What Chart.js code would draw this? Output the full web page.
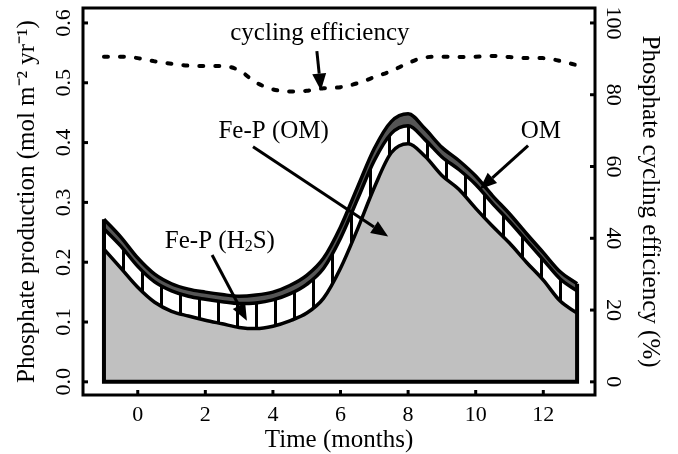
<!DOCTYPE html>
<html><head><meta charset="utf-8">
<script src="https://cdn.jsdelivr.net/npm/chart.js@4/dist/chart.umd.min.js"></script>
<style>html,body{margin:0;padding:0;background:#fff}#wrap{width:678px;height:454px}</style>
</head><body><div id="wrap"><canvas id="c" width="678" height="454"></canvas></div>
<script>
// ---- data ----
const months = [-1,-0.5,0,0.5,1,1.5,2,2.5,3,3.5,4,4.5,5,5.5,6,6.5,7,7.5,8,8.5,9,9.5,10,10.5,11,11.5,12,12.5,13];
const fePOM = [0.222,0.190,0.158,0.133,0.118,0.110,0.103,0.097,0.091,0.089,0.093,0.102,0.115,0.140,0.190,0.255,0.325,0.383,0.398,0.377,0.345,0.322,0.290,0.260,0.232,0.200,0.170,0.135,0.115];
const fePH2S = [0.034,0.037,0.035,0.034,0.034,0.033,0.035,0.037,0.040,0.043,0.044,0.045,0.048,0.050,0.050,0.050,0.045,0.032,0.030,0.028,0.031,0.033,0.040,0.038,0.036,0.036,0.034,0.037,0.037];
const om = [0.016,0.015,0.014,0.013,0.012,0.012,0.012,0.012,0.012,0.013,0.013,0.014,0.015,0.017,0.019,0.020,0.020,0.020,0.020,0.018,0.016,0.015,0.014,0.013,0.013,0.012,0.012,0.012,0.012];
const cyclingEfficiency = [90.6,90.6,90.2,89.3,88.6,88.1,88.0,88.0,86.8,83.4,81.5,80.9,81.1,81.8,82.1,83.2,84.9,86.6,88.8,90.4,90.6,90.5,90.6,90.8,90.5,90.2,90.2,89.4,88.2];
const xTicks = [0,2,4,6,8,10,12];
const yTicks = [0,0.1,0.2,0.3,0.4,0.5,0.6];
const y2Ticks = [0,20,40,60,80,100];

// annotation labels (data coordinates: months, production)
const annotations = [
  {parts:[['cycling efficiency']], at:[5.39,0.583], from:[5.30,0.553], to:[5.42,0.487]},
  {parts:[['Fe-P (OM)']], at:[4.02,0.418], from:[3.41,0.393], to:[7.41,0.243]},
  {parts:[['OM']], at:[11.93,0.418], from:[11.55,0.395], to:[10.12,0.322]},
  {parts:[['Fe-P (H'],['2',true],['S)']], at:[2.43,0.235], from:[2.20,0.212], to:[3.23,0.102]}
];

// ---- derived tables ----
const lowerTop = months.map((m,i)=>({x:m,y:fePOM[i]}));
const midTop = months.map((m,i)=>({x:m,y:fePOM[i]+fePH2S[i]}));
const outerTop = months.map((m,i)=>({x:m,y:fePOM[i]+fePH2S[i]+om[i]}));
const effPts = months.map((m,i)=>({x:m,y:cyclingEfficiency[i]}));
const last = months.length-1;
const outline = [
  {x:months[0],y:outerTop[0].y},{x:months[0],y:0},
  {x:months[last],y:0},{x:months[last],y:outerTop[last].y}
];

// hatch pattern
const pc = document.createElement('canvas');
pc.width = 19; pc.height = 19;
const pctx = pc.getContext('2d');
pctx.fillStyle = '#fff'; pctx.fillRect(0,0,19,19);
pctx.fillStyle = '#000'; pctx.fillRect(8,0,3,19);
const hatch = pctx.createPattern(pc,'repeat');

const FONT = 'Liberation Serif, Times New Roman, serif';

const deco = {
  id:'deco',
  afterDatasetsDraw(chart){
    const ctx = chart.ctx, a = chart.chartArea;
    const sx = chart.scales.x, sy = chart.scales.y, s2 = chart.scales.y2;
    ctx.save();
    ctx.strokeStyle = '#000'; ctx.fillStyle = '#000';
    ctx.lineWidth = 3;
    xTicks.forEach(v=>{const p=sx.getPixelForValue(v);ctx.beginPath();ctx.moveTo(p,a.bottom);ctx.lineTo(p,a.bottom-5);ctx.stroke();});
    yTicks.forEach(v=>{const p=sy.getPixelForValue(v);ctx.beginPath();ctx.moveTo(a.left,p);ctx.lineTo(a.left+5,p);ctx.stroke();});
    y2Ticks.forEach(v=>{const p=s2.getPixelForValue(v);ctx.beginPath();ctx.moveTo(a.right,p);ctx.lineTo(a.right-5,p);ctx.stroke();});
    ctx.lineWidth = 3;
    ctx.strokeRect(a.left,a.top,a.right-a.left,a.bottom-a.top);
    annotations.forEach(an=>{
      const size = 25;
      let total = 0;
      const segs = an.parts.map(p=>{
        const f = p[1] ? Math.round(size*0.65) : size;
        ctx.font = f+'px '+FONT;
        const w = ctx.measureText(p[0]).width;
        total += w;
        return {t:p[0],f,w,sub:!!p[1]};
      });
      let x = sx.getPixelForValue(an.at[0]) - total/2;
      const y = sy.getPixelForValue(an.at[1]);
      ctx.textBaseline = 'middle'; ctx.textAlign = 'left';
      segs.forEach(s=>{
        ctx.font = s.f+'px '+FONT;
        ctx.fillText(s.t,x,s.sub? y+6 : y);
        x += s.w;
      });
      const x1 = sx.getPixelForValue(an.from[0]), y1 = sy.getPixelForValue(an.from[1]);
      const x2 = sx.getPixelForValue(an.to[0]), y2 = sy.getPixelForValue(an.to[1]);
      const ang = Math.atan2(y2-y1,x2-x1), hl = 17, hw = 7;
      const bx = x2 - hl*Math.cos(ang), by = y2 - hl*Math.sin(ang);
      ctx.lineWidth = 3;
      ctx.beginPath(); ctx.moveTo(x1,y1); ctx.lineTo(bx,by); ctx.stroke();
      ctx.beginPath();
      ctx.moveTo(x2,y2);
      ctx.lineTo(bx + hw*Math.sin(ang), by - hw*Math.cos(ang));
      ctx.lineTo(bx - hw*Math.sin(ang), by + hw*Math.cos(ang));
      ctx.closePath(); ctx.fill();
    });
    ctx.restore();
  }
};

const tickFont = {family:FONT, size:22};
const titleFont = {family:FONT, size:25};
const curve = {pointRadius:0, borderColor:'#000', borderWidth:3.5, tension:0.4, cubicInterpolationMode:'monotone'};
const noPad = s=>{s.paddingTop=0;s.paddingBottom=0;s.paddingLeft=0;s.paddingRight=0;};

new Chart(document.getElementById('c'), {
  type:'line',
  data:{datasets:[
    {label:'cycling efficiency', data:effPts, yAxisID:'y2', borderColor:'#000', borderWidth:4, borderDash:[4,12], borderCapStyle:'round', pointRadius:0, tension:0.4, cubicInterpolationMode:'monotone', fill:false},
    {label:'outline', data:outline, yAxisID:'y', borderColor:'#000', borderWidth:4, pointRadius:0, tension:0, fill:false, borderJoinStyle:'miter'},
    Object.assign({label:'OM', data:outerTop, yAxisID:'y', backgroundColor:'#555555', fill:'+1'}, curve),
    Object.assign({label:'Fe-P (H2S)', data:midTop, yAxisID:'y', backgroundColor:hatch, fill:'+1'}, curve),
    Object.assign({label:'Fe-P (OM)', data:lowerTop, yAxisID:'y', backgroundColor:'#c0c0c0', fill:'origin'}, curve)
  ]},
  options:{
    responsive:false, animation:false, devicePixelRatio:1, events:[],
    layout:{padding:{top:8,left:0,right:0,bottom:0}},
    plugins:{legend:{display:false}, tooltip:{enabled:false}, filler:{drawTime:'beforeDatasetsDraw'}},
    scales:{
      x:{type:'linear', position:'bottom', min:-1.62, max:13.53,
        grid:{display:false}, border:{display:false},
        afterBuildTicks:s=>{s.ticks = xTicks.map(v=>({value:v}));},
        afterFit:s=>{s.height = 59; noPad(s);},
        ticks:{font:tickFont, color:'#000', padding:-1, maxRotation:0, callback:v=>String(v)},
        title:{display:true, text:'Time (months)', font:Object.assign({lineHeight:1},titleFont), color:'#000', padding:{top:0,bottom:1}}
      },
      y:{type:'linear', position:'left', min:-0.022, max:0.625,
        grid:{display:false}, border:{display:false},
        afterBuildTicks:s=>{s.ticks = yTicks.map(v=>({value:v}));},
        afterFit:s=>{s.width = 83; noPad(s);},
        ticks:{font:tickFont, color:'#000', padding:-3, minRotation:90, maxRotation:90, crossAlign:'center', callback:v=>Number(v).toFixed(1)},
        title:{display:true, text:'Phosphate production (mol m\u207B\u00B2 yr\u207B\u00B9)', font:titleFont, color:'#000', padding:{top:12,bottom:0}}
      },
      y2:{type:'linear', position:'right', min:-0.022*1000/6, max:0.625*1000/6,
        grid:{display:false}, border:{display:false},
        afterBuildTicks:s=>{s.ticks = y2Ticks.map(v=>({value:v}));},
        afterFit:s=>{s.width = 83; noPad(s);},
        ticks:{font:tickFont, color:'#000', padding:-7, minRotation:-90, maxRotation:-90, crossAlign:'center', callback:v=>String(v)},
        title:{display:true, text:'Phosphate cycling efficiency (%)', font:titleFont, color:'#000', padding:{top:13,bottom:0}}
      }
    }
  },
  plugins:[deco]
});
</script></body></html>
